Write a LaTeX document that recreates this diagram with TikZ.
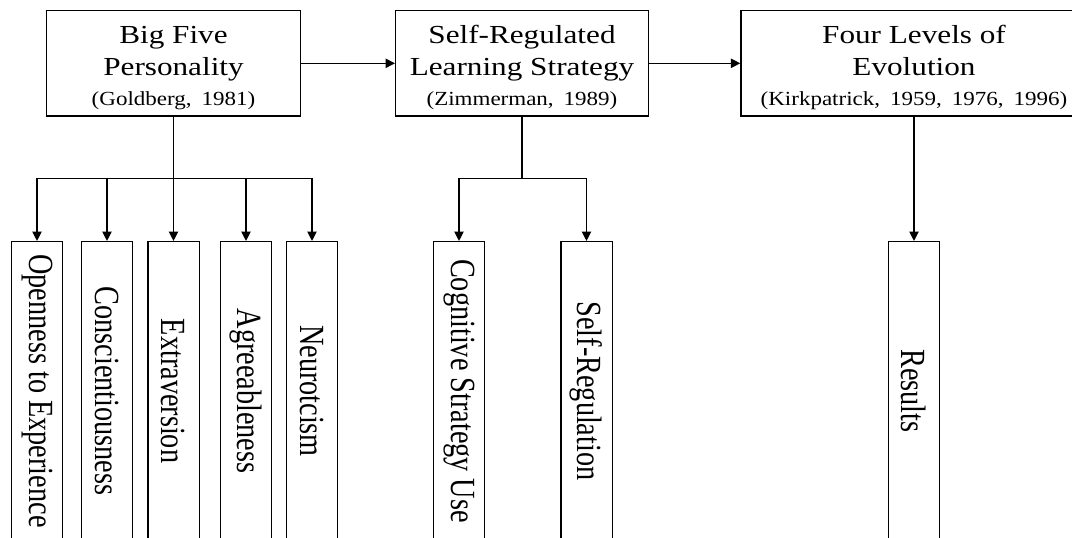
\documentclass[tikz,border=0pt]{standalone}
\usepackage{fontspec}
\usepackage{graphicx}
\setmainfont{Liberation Serif}
\newfontfamily\wideserif{Liberation Serif}[FakeStretch=1.2]
\newfontfamily\citeserif{Liberation Serif}[FakeStretch=1.15]
\newfontfamily\tallserif{Liberation Serif}[FakeStretch=0.8]
\usetikzlibrary{arrows.meta}
\newcommand{\headfont}{\wideserif\fontsize{19.5}{24}\selectfont}
\newcommand{\citefont}{\citeserif\fontsize{15}{20}\selectfont}
\newcommand{\vlabel}[1]{\rotatebox{-90}{\tallserif\fontsize{26.5}{30}\selectfont #1}}
\begin{document}
\begin{tikzpicture}[x=0.75pt,y=-0.75pt,
  theory/.style={draw,line width=1.1pt,align=center,inner sep=0pt,minimum height=79pt,font=\headfont},
  factor/.style={draw,line width=1.1pt,inner sep=0pt,minimum width=38.6pt,minimum height=224pt},
  link/.style={line width=0.9pt,-{Triangle[length=7pt,width=7pt]}},
  stem/.style={line width=1.4pt}]
\useasboundingbox (0,0) rectangle (1072,537);
\clip (0,0) rectangle (1072,537);
\node[theory,minimum width=190.2pt] (bigfive) at (173.5,63.3) {\rule{0pt}{20pt}Big Five\\Personality\\[-2pt]{\citefont (Goldberg,\enspace 1981)}};
\node[theory,minimum width=189.5pt] (srl) at (522,63.3) {\rule{0pt}{20pt}Self-Regulated\\Learning Strategy\\[-2pt]{\citefont (Zimmerman,\enspace 1989)}};
\node[theory,minimum width=259.5pt] (evo) at (914,63.3) {\rule{0pt}{20pt}Four Levels of\\Evolution\\[-2pt]{\citefont (Kirkpatrick,\enspace 1959,\enspace 1976,\enspace 1996)}};
\draw[link] (bigfive) -- (srl);
\draw[link] (srl) -- (evo);
\node[factor] (openness) at (37,391) {\vlabel{Openness to Experience}};
\node[factor] (consc) at (107,391) {\vlabel{Conscientiousness}};
\node[factor] (extra) at (173.5,391) {\vlabel{Extraversion}};
\node[factor] (agree) at (246,391) {\vlabel{Agreeableness}};
\node[factor] (neuro) at (312,391) {\vlabel{Neurotcism}};
\node[factor] (cognitive) at (459,391) {\vlabel{Cognitive Strategy Use}};
\node[factor] (selfreg) at (586.5,391) {\vlabel{Self-Regulation}};
\node[factor] (results) at (914,391) {\vlabel{Results}};
\coordinate (bigjoin) at (173.5,178.5);
\coordinate (srljoin) at (522,178.5);
\draw[stem] (bigfive) -- (bigjoin);
\foreach \trait in {openness,consc,extra,agree,neuro}
  \draw[link] (bigjoin) -| (\trait);
\draw[stem] (srl) -- (srljoin);
\foreach \part in {cognitive,selfreg}
  \draw[link] (srljoin) -| (\part);
\draw[link] (evo) -- (results);
\end{tikzpicture}
\end{document}
